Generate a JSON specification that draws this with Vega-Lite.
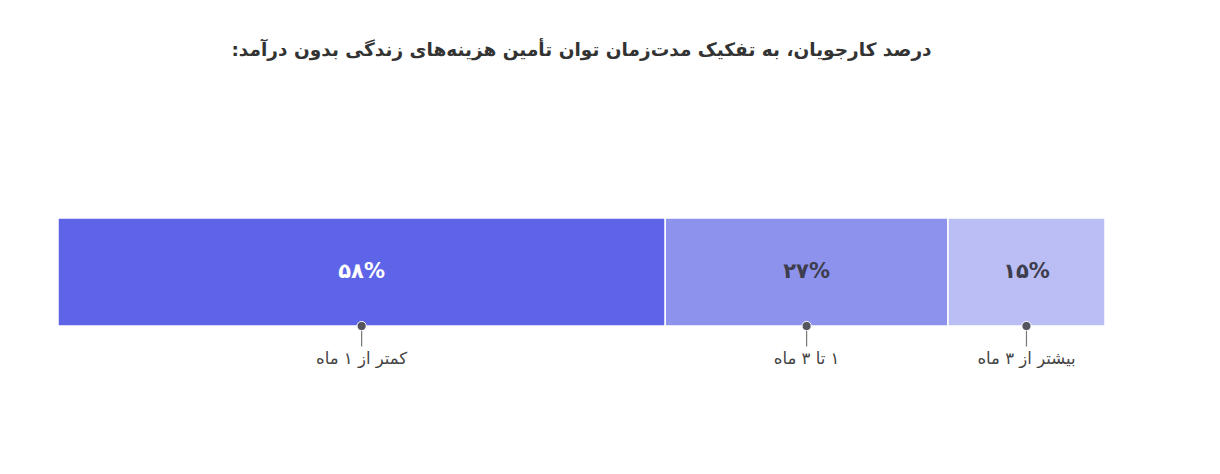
{
  "$schema": "https://vega.github.io/schema/vega-lite/v6.json",
  "width": 1047,
  "height": 108,
  "padding": {"left": 57, "top": 40, "right": 0, "bottom": 0},
  "background": "white",
  "config": {"view": {"stroke": null}, "font": "DejaVu Sans"},
  "title": {
    "text": "‏درصد کارجویان، به تفکیک مدت‌زمان توان تأمین هزینه‌های زندگی بدون درآمد:‏",
    "fontSize": 18.5,
    "fontWeight": "bold",
    "color": "#333333",
    "anchor": "middle",
    "offset": 158
  },
  "data": {
    "values": [
      {"group": "‏کمتر از ۱ ماه", "value": 58, "label": "۵۸%", "order": 1},
      {"group": "‏۱ تا ۳ ماه", "value": 27, "label": "۲۷%", "order": 2},
      {"group": "‏بیشتر از ۳ ماه", "value": 15, "label": "۱۵%", "order": 3}
    ]
  },
  "transform": [
    {"stack": "value", "groupby": [], "sort": [{"field": "order"}], "as": ["x0", "x1"]},
    {"calculate": "(datum.x0 + datum.x1) / 2", "as": "mid"}
  ],
  "layer": [
    {
      "mark": {"type": "bar", "stroke": "white", "strokeWidth": 1.5},
      "encoding": {
        "x": {"field": "x0", "type": "quantitative", "scale": {"domain": [0, 100], "nice": false, "zero": true}, "axis": null},
        "x2": {"field": "x1"},
        "y": {"datum": 0, "type": "quantitative", "scale": {"domain": [0, 1], "nice": false}, "axis": null},
        "y2": {"datum": 1},
        "color": {
          "field": "order",
          "type": "ordinal",
          "scale": {"domain": [1, 2, 3], "range": ["#5d64e8", "#8d93ec", "#bbbef4"]},
          "legend": null
        }
      }
    },
    {
      "mark": {"type": "text", "fontSize": 21, "fontWeight": "bold", "baseline": "middle", "align": "center"},
      "encoding": {
        "x": {"field": "mid", "type": "quantitative"},
        "y": {"datum": 0.5, "type": "quantitative"},
        "text": {"field": "label"},
        "color": {"condition": {"test": "datum.order == 1", "value": "white"}, "value": "#3d3d4d"}
      }
    },
    {
      "mark": {"type": "rule", "color": "#777777", "strokeWidth": 1.2},
      "encoding": {
        "x": {"field": "mid", "type": "quantitative"},
        "y": {"datum": 0, "type": "quantitative"},
        "y2": {"datum": -0.19}
      }
    },
    {
      "mark": {"type": "point", "filled": true, "size": 85, "color": "#555560", "stroke": "white", "strokeWidth": 1, "opacity": 1},
      "encoding": {
        "x": {"field": "mid", "type": "quantitative"},
        "y": {"datum": 0, "type": "quantitative"}
      }
    },
    {
      "mark": {"type": "text", "fontSize": 16.5, "baseline": "middle", "align": "center", "color": "#444444"},
      "encoding": {
        "x": {"field": "mid", "type": "quantitative"},
        "y": {"datum": -0.31, "type": "quantitative"},
        "text": {"field": "group"}
      }
    }
  ]
}
